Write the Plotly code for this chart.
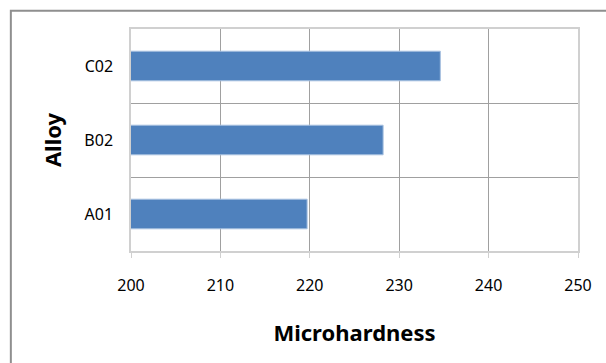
import plotly.graph_objects as go

categories = ["A01", "B02", "C02"]
values = [219.7, 228.2, 234.6]
x_ticks = [200, 210, 220, 230, 240, 250]
x_title = "Microhardness"
y_title = "Alloy"

FONT = "Noto Sans"

fig = go.Figure(
    go.Bar(
        y=categories,
        x=values,
        orientation="h",
        width=0.4,
        marker=dict(color="#4f81bd", line=dict(color="#a7c0e0", width=1)),
    )
)

fig.update_layout(
    width=606,
    height=363,
    margin=dict(l=131, r=27.5, t=29, b=111.5, autoexpand=False),
    paper_bgcolor="white",
    plot_bgcolor="white",
    showlegend=False,
    font=dict(family=FONT, color="black"),
    shapes=[
        dict(
            type="rect", xref="paper", yref="paper",
            x0=-0.2688, x1=3, y0=-3, y1=1.0822,
            line=dict(color="#8f8f8f", width=2), layer="below",
        )
    ],
)

fig.update_xaxes(
    range=[200, 250],
    tickvals=x_ticks,
    ticktext=[str(v) for v in x_ticks],
    showgrid=True,
    gridcolor="#a0a0a0",
    gridwidth=1,
    showline=True,
    linecolor="#d0d0d0",
    linewidth=1.5,
    mirror=True,
    ticks="outside",
    ticklen=5,
    tickcolor="#d0d0d0",
    tickfont=dict(size=16, family=FONT, color="black"),
    ticklabelstandoff=14,
    zeroline=False,
    automargin=False,
    title=dict(text=x_title, font=dict(size=22, family=FONT, color="black", weight="bold"), standoff=31),
)

fig.update_yaxes(
    type="category",
    categoryorder="array",
    categoryarray=categories,
    range=[-0.5, 2.5],
    tickson="boundaries",
    showgrid=True,
    gridcolor="#a0a0a0",
    gridwidth=1,
    showline=True,
    linecolor="#d0d0d0",
    linewidth=1.5,
    mirror=True,
    ticks="",
    tickfont=dict(size=16, family=FONT, color="black"),
    ticklabelstandoff=13,
    automargin=False,
    title=dict(text=y_title, font=dict(size=22, family=FONT, color="black", weight="bold"), standoff=17),
)

fig.write_html("out.html", post_script="document.body.style.margin='0';",
               config={"displayModeBar": False})
